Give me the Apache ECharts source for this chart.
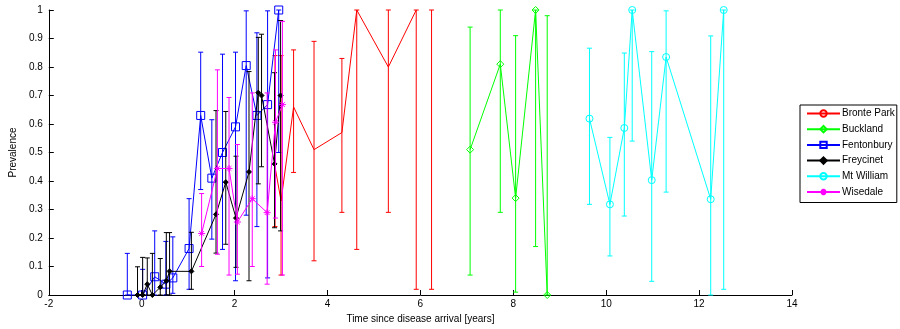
<!DOCTYPE html>
<html>
<head>
<meta charset="utf-8">
<script src="https://cdn.jsdelivr.net/npm/echarts@6/dist/echarts.min.js"></script>
<style>
  html, body { margin: 0; padding: 0; background: #fff; }
  #chart { width: 900px; height: 329px; }
</style>
</head>
<body>
<div id="chart"></div>
<script>
// Prevalence by site: time (years since arrival), estimate, lower and upper bounds
const bronteX  = [2.87, 3.00, 3.27, 3.71, 4.31, 4.63, 5.31, 5.91, 6.24];
const bronteY  = [0.45, 0.33, 0.66, 0.51, 0.57, 1.00, 0.80, 1.00, null];
const bronteLo = [0.24, 0.07, 0.43, 0.12, 0.29, 0.16, 0.29, 0.02, 0.02];
const bronteHi = [0.84, 0.84, 0.86, 0.89, 0.83, 1.00, 1.00, 1.00, 1.00];

const bucklandX  = [7.07, 7.72, 8.05, 8.48, 8.73];
const bucklandY  = [0.51, 0.81, 0.34, 1.00, 0.00];
const bucklandLo = [0.07, 0.29, 0.01, 0.17, 0.00];
const bucklandHi = [0.94, 1.00, 0.91, 1.00, 0.98];

const fentonX  = [-0.31, 0.02, 0.28, 0.52, 0.67, 1.02, 1.27, 1.51, 1.74, 2.02, 2.25, 2.48, 2.71, 2.95];
const fentonY  = [0.00, 0.00, 0.064, 0.038, 0.06, 0.163, 0.63, 0.41, 0.50, 0.59, 0.805, 0.63, 0.668, 1.00];
const fentonLo = [0.00, 0.00, 0.00, 0.00, 0.006, 0.02, 0.37, 0.196, 0.16, 0.05, 0.28, 0.24, 0.06, 0.50];
const fentonHi = [0.146, 0.09, 0.225, 0.188, 0.204, 0.338, 0.852, 0.615, 0.845, 0.852, 0.997, 0.92, 0.997, 1.00];

const freyX  = [-0.09, 0.02, 0.12, 0.23, 0.40, 0.53, 0.60, 1.07, 1.60, 1.81, 2.03, 2.31, 2.51, 2.58, 2.86, 2.99];
const freyY  = [0.00, 0.00, 0.038, 0.00, 0.027, 0.05, 0.083, 0.083, 0.283, 0.396, 0.27, 0.432, 0.71, 0.70, 0.46, 0.70];
const freyLo = [0.00, 0.00, 0.00, 0.00, 0.00, 0.00, 0.00, 0.02, 0.147, 0.178, 0.097, 0.05, 0.39, 0.45, 0.236, 0.225];
const freyHi = [0.099, 0.132, 0.13, 0.146, 0.128, 0.219, 0.219, 0.22, 0.647, 0.644, 0.487, 0.784, 0.904, 0.915, 0.78, 0.963];

const mtwX  = [9.64, 10.08, 10.39, 10.56, 10.98, 11.29, 12.25, 12.53];
const mtwY  = [0.619, 0.318, 0.586, 1.00, 0.403, 0.835, 0.336, 1.00];
const mtwLo = [0.318, 0.137, 0.277, 0.54, 0.048, 0.361, 0.00, 0.02];
const mtwHi = [0.866, 0.553, 0.849, 1.00, 0.854, 0.997, 0.909, 1.00];

const wiseX  = [1.29, 1.63, 1.88, 2.06, 2.38, 2.70, 2.88, 3.03];
const wiseY  = [0.216, 0.444, 0.444, 0.256, 0.338, 0.289, 0.606, 0.668];
const wiseLo = [0.10, 0.143, 0.07, 0.073, 0.10, 0.038, 0.27, 0.07];
const wiseHi = [0.356, 0.79, 0.693, 0.528, 0.709, 0.709, 0.86, 0.96];

const xTicks = { min: -2, max: 14, step: 2 };
const yTicks = { min: 0, max: 1, step: 0.1 };

const FONT = 'Liberation Sans, Arial, sans-serif';
const ASTERISK = 'path://M5,0L5,10M0,5L10,5M1.6,1.6L8.4,8.4M1.6,8.4L8.4,1.6';

const sites = [
  { name: 'Bronte Park', color: '#ff0000', x: bronteX,   y: bronteY,   lo: bronteLo,   hi: bronteHi,   symbol: 'none',    size: 0, filled: false },
  { name: 'Buckland',    color: '#00ff00', x: bucklandX, y: bucklandY, lo: bucklandLo, hi: bucklandHi, symbol: 'diamond', size: 7, filled: false },
  { name: 'Fentonbury',  color: '#0000ff', x: fentonX,   y: fentonY,   lo: fentonLo,   hi: fentonHi,   symbol: 'rect',    size: 8, filled: false },
  { name: 'Freycinet',   color: '#000000', x: freyX,     y: freyY,     lo: freyLo,     hi: freyHi,     symbol: 'diamond', size: 5, filled: true },
  { name: 'Mt William',  color: '#00ffff', x: mtwX,      y: mtwY,      lo: mtwLo,      hi: mtwHi,      symbol: 'circle',  size: 7, filled: false },
  { name: 'Wisedale',    color: '#ff00ff', x: wiseX,     y: wiseY,     lo: wiseLo,     hi: wiseHi,     symbol: ASTERISK,  size: 7, filled: true }
];

function errorBarSeries(site, z) {
  return {
    type: 'custom',
    name: site.name + ' interval',
    z: z,
    silent: true,
    data: site.x.map((xv, i) => [xv, site.lo[i], site.hi[i]]),
    encode: { x: 0, y: [1, 2] },
    renderItem: function (params, api) {
      const lo = api.coord([api.value(0), api.value(1)]);
      const hi = api.coord([api.value(0), api.value(2)]);
      const cap = 2.5;
      const style = { stroke: site.color, lineWidth: 1, fill: null };
      return {
        type: 'group',
        children: [
          { type: 'line', shape: { x1: lo[0], y1: lo[1], x2: hi[0], y2: hi[1] }, style: style },
          { type: 'line', shape: { x1: lo[0] - cap, y1: lo[1], x2: lo[0] + cap, y2: lo[1] }, style: style },
          { type: 'line', shape: { x1: hi[0] - cap, y1: hi[1], x2: hi[0] + cap, y2: hi[1] }, style: style }
        ]
      };
    }
  };
}

function lineSeries(site, z) {
  return {
    type: 'line',
    name: site.name,
    z: z,
    silent: true,
    animation: false,
    connectNulls: false,
    data: site.x.map((xv, i) => [xv, site.y[i]]),
    symbol: site.symbol,
    symbolSize: site.size,
    showSymbol: site.symbol !== 'none',
    lineStyle: { color: site.color, width: 1 },
    itemStyle: {
      color: site.filled ? site.color : 'rgba(0,0,0,0)',
      borderColor: site.color,
      borderWidth: 1
    }
  };
}

const series = [];
sites.forEach((s, i) => {
  series.push(errorBarSeries(s, 2 + i * 2));
  series.push(lineSeries(s, 3 + i * 2));
});

const chart = echarts.init(document.getElementById('chart'), null, { renderer: 'canvas' });
chart.setOption({
  animation: false,
  backgroundColor: '#ffffff',
  textStyle: { fontFamily: FONT },
  grid: { left: 43, right: 108, top: 10, bottom: 33, containLabel: false },
  legend: {
    data: sites.map(s => s.name),
    orient: 'vertical',
    left: 800,
    top: 105,
    width: 98,
    backgroundColor: '#ffffff',
    borderColor: '#000000',
    borderWidth: 1,
    borderRadius: 0,
    padding: [3, 2, 5, 6],
    itemWidth: 33,
    itemHeight: 8,
    itemGap: 4.7,
    selectedMode: false,
    textStyle: { fontFamily: FONT, fontSize: 10, lineHeight: 11, color: '#000', padding: [0, 0, 0, -3] }
  },
  xAxis: {
    type: 'value',
    min: xTicks.min,
    max: xTicks.max,
    interval: xTicks.step,
    name: 'Time since disease arrival [years]',
    nameLocation: 'middle',
    nameGap: 19,
    nameTextStyle: { fontFamily: FONT, fontSize: 10, color: '#000' },
    axisLine: { onZero: false, lineStyle: { color: '#000', width: 1 } },
    axisTick: { inside: true, length: 5, lineStyle: { color: '#000' } },
    axisLabel: { fontFamily: FONT, fontSize: 10, color: '#000', margin: 4 },
    splitLine: { show: false }
  },
  yAxis: {
    type: 'value',
    min: yTicks.min,
    max: yTicks.max,
    interval: yTicks.step,
    name: 'Prevalence',
    nameLocation: 'middle',
    nameGap: 26,
    nameTextStyle: { fontFamily: FONT, fontSize: 10, color: '#000' },
    axisLine: { show: true, onZero: false, lineStyle: { color: '#000', width: 1 } },
    axisTick: { show: true, inside: true, length: 5, lineStyle: { color: '#000' } },
    axisLabel: { fontFamily: FONT, fontSize: 10, color: '#000', margin: 6 },
    splitLine: { show: false }
  },
  series: series
});
</script>
</body>
</html>
